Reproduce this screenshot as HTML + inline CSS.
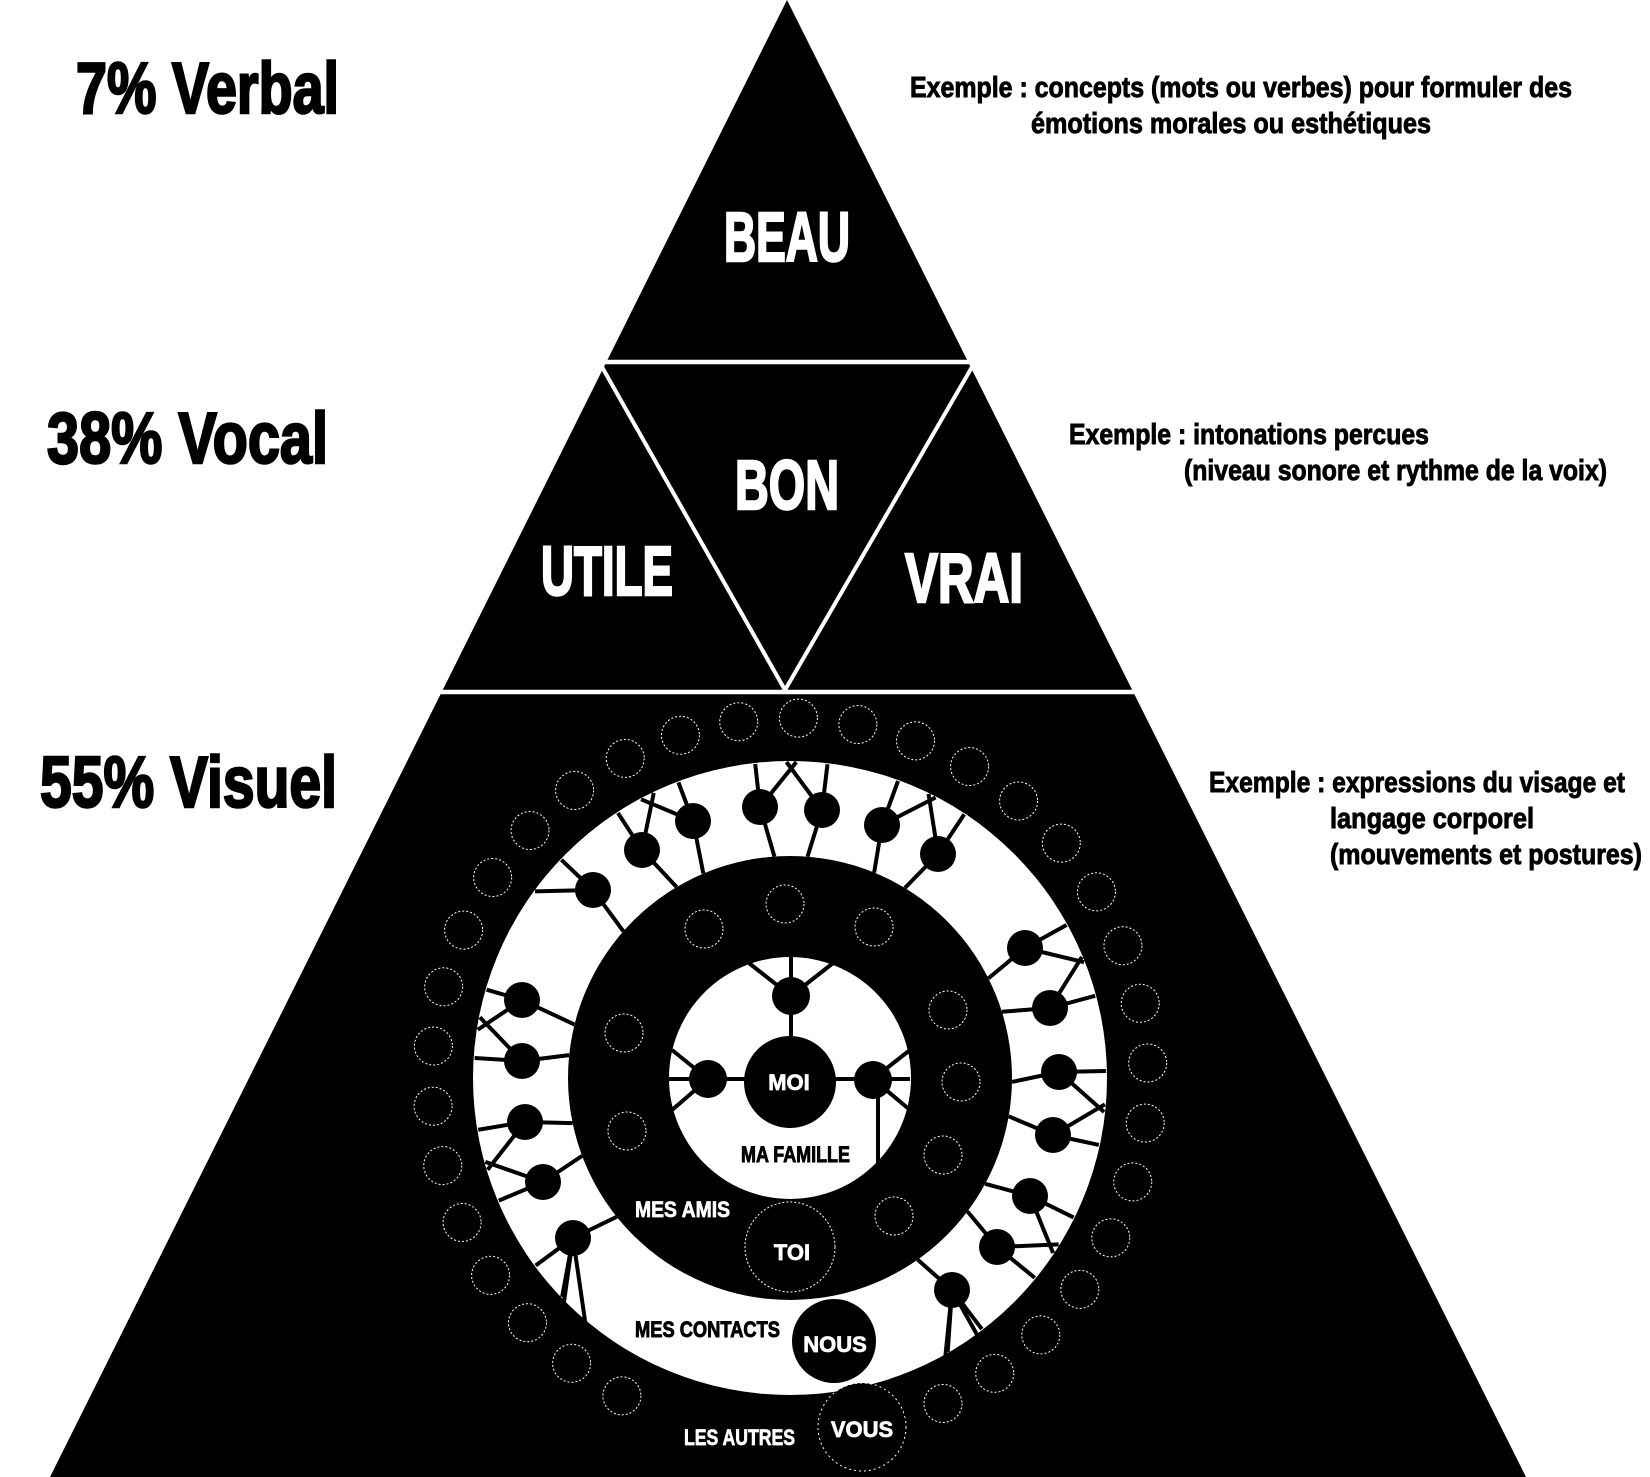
<!DOCTYPE html>
<html><head><meta charset="utf-8"><style>
html,body{margin:0;padding:0;background:#fff;width:1650px;height:1477px;overflow:hidden}
svg{display:block}
text{font-family:"Liberation Sans Narrow","Liberation Sans",sans-serif;font-weight:bold}
.big{stroke:#000;stroke-width:2.5}
.bigw{stroke:#fff;stroke-width:2.5}
.sm{stroke:#000;stroke-width:0.9}
.smw{stroke:#fff;stroke-width:0.7}
</style></head><body>
<svg id="s" width="1650" height="1477" viewBox="0 0 1650 1477" xmlns="http://www.w3.org/2000/svg">
<polygon points="787,0 50,1477 1526,1477" fill="#000"/>
<line x1="560" y1="362" x2="1010" y2="362" stroke="#fff" stroke-width="4.5"/>
<line x1="400" y1="692" x2="1180" y2="692" stroke="#fff" stroke-width="4.5"/>
<line x1="602" y1="367" x2="785" y2="690" stroke="#fff" stroke-width="4"/>
<line x1="972" y1="367" x2="785" y2="690" stroke="#fff" stroke-width="4"/>
<circle cx="790" cy="1078" r="317" fill="#fff"/>
<g id="spokes" stroke="#000" stroke-width="4"></g>
<circle cx="790" cy="1078" r="222" fill="#000"/>
<circle cx="790" cy="1078" r="121" fill="#fff"/>
<g id="inner" stroke="#000" stroke-width="4">
<line x1="791" y1="955" x2="791" y2="1040"/>
<line x1="745" y1="960" x2="791" y2="996"/><line x1="837" y1="960" x2="791" y2="996"/>
<line x1="669" y1="1079" x2="910" y2="1079"/>
<line x1="672" y1="1050" x2="708" y2="1079"/><line x1="672" y1="1110" x2="708" y2="1079"/>
<line x1="873" y1="1079" x2="910" y2="1050"/><line x1="873" y1="1079" x2="910" y2="1110"/>
<line x1="878" y1="1079" x2="878" y2="1165"/>
</g>
<circle cx="791" cy="996" r="19" fill="#000"/>
<circle cx="708" cy="1079" r="19" fill="#000"/>
<circle cx="873" cy="1080" r="19" fill="#000"/>
<circle cx="790" cy="1082" r="46" fill="#000"/>
<g id="dots" fill="none" stroke="#fff" stroke-width="1" stroke-dasharray="2,2"></g>
<circle cx="790" cy="1247" r="45" fill="#000" stroke="#fff" stroke-width="1" stroke-dasharray="2,2"/>
<circle cx="834" cy="1341" r="42" fill="#000"/>
<circle cx="862" cy="1427" r="44" fill="#000" stroke="#fff" stroke-width="1" stroke-dasharray="2,3"/>

<text class="big" x="76" y="113" font-size="72" textLength="263" lengthAdjust="spacingAndGlyphs">7% Verbal</text>
<text class="big" x="47" y="463" font-size="72" textLength="281" lengthAdjust="spacingAndGlyphs">38% Vocal</text>
<text class="big" x="40" y="807" font-size="72" textLength="297" lengthAdjust="spacingAndGlyphs">55% Visuel</text>
<g fill="#fff">
<text class="bigw" x="724" y="261" font-size="70" textLength="126" lengthAdjust="spacingAndGlyphs">BEAU</text>
<text class="bigw" x="735" y="509" font-size="70" textLength="104" lengthAdjust="spacingAndGlyphs">BON</text>
<text class="bigw" x="541" y="595" font-size="70" textLength="132" lengthAdjust="spacingAndGlyphs">UTILE</text>
<text class="bigw" x="905" y="602" font-size="70" textLength="118" lengthAdjust="spacingAndGlyphs">VRAI</text>
<text class="smw" x="789" y="1090" font-size="22" text-anchor="middle">MOI</text>
<text class="smw" x="635" y="1217" font-size="22" textLength="95" lengthAdjust="spacingAndGlyphs">MES AMIS</text>
<text class="smw" x="792" y="1260" font-size="22" text-anchor="middle">TOI</text>
<text class="smw" x="835" y="1352" font-size="22" text-anchor="middle">NOUS</text>
<text class="smw" x="684" y="1445" font-size="22" textLength="111" lengthAdjust="spacingAndGlyphs">LES AUTRES</text>
<text class="smw" x="862" y="1437" font-size="22" text-anchor="middle">VOUS</text>
</g>
<text class="sm" x="741" y="1162" font-size="22" textLength="109" lengthAdjust="spacingAndGlyphs">MA FAMILLE</text>
<text class="sm" x="635" y="1337" font-size="22" textLength="145" lengthAdjust="spacingAndGlyphs">MES CONTACTS</text>

<g font-size="29" class="sm">
<text x="910" y="97" textLength="662" lengthAdjust="spacingAndGlyphs">Exemple :  concepts  (mots ou verbes)  pour formuler des</text>
<text x="1031" y="133" textLength="400" lengthAdjust="spacingAndGlyphs">émotions morales ou esthétiques</text>
<text x="1069" y="444" textLength="360" lengthAdjust="spacingAndGlyphs">Exemple :  intonations percues</text>
<text x="1184" y="480" textLength="423" lengthAdjust="spacingAndGlyphs">(niveau sonore et rythme de la voix)</text>
<text x="1209" y="792" textLength="416" lengthAdjust="spacingAndGlyphs">Exemple :  expressions du visage et</text>
<text x="1330" y="828" textLength="204" lengthAdjust="spacingAndGlyphs">langage corporel</text>
<text x="1330" y="864" textLength="312" lengthAdjust="spacingAndGlyphs">(mouvements et postures)</text>
</g>
</svg>
<script>
(function(){
var NS="http://www.w3.org/2000/svg",cx=790,cy=1078;
function el(p,t,a){var e=document.createElementNS(NS,t);for(var k in a)e.setAttribute(k,a[k]);p.appendChild(e);return e;}
var sp=document.getElementById('spokes'),dots=document.getElementById('dots'),svg=document.getElementById('s');
var filled=[[693,821],[642,850],[593,890],[760,807],[822,810],[882,825],[938,854],[1025,948],[1050,1008],[1059,1072],[1053,1135],[1030,1196],[997,1247],[952,1290],[522,1000],[522,1061],[525,1122],[543,1182],[573,1238]];
filled.forEach(function(p,i){
 var a=Math.atan2(p[1]-cy,p[0]-cx);
 var ri=222,ro=316;
 el(sp,'line',{x1:cx+ri*Math.cos(a+(i%2?0.04:-0.04)),y1:cy+ri*Math.sin(a+(i%2?0.04:-0.04)),x2:p[0],y2:p[1]});
 el(sp,'line',{x1:p[0],y1:p[1],x2:cx+ro*Math.cos(a),y2:cy+ro*Math.sin(a)});
 var b=a+(i%2?0.13:-0.13);
 el(sp,'line',{x1:p[0],y1:p[1],x2:cx+ro*Math.cos(b),y2:cy+ro*Math.sin(b)});
});
[[573,1238,590,1355],[573,1238,560,1330],[952,1290,945,1360],[952,1290,980,1340]].forEach(function(l){el(sp,'line',{x1:l[0],y1:l[1],x2:l[2],y2:l[3]});});
filled.forEach(function(p){el(svg,'circle',{cx:p[0],cy:p[1],r:18,fill:'#000'});});
[[704,929],[785,904],[874,927],[624,1033],[948,1010],[961,1082],[627,1131],[943,1155],[894,1216]].forEach(function(p){el(dots,'circle',{cx:p[0],cy:p[1],r:19});});
var start=118,end=424.7,n=33;
for(var i=0;i<n;i++){var d=(start+(end-start)*i/(n-1))*Math.PI/180;
 el(dots,'circle',{cx:cx+358*Math.cos(d),cy:cy+360*Math.sin(d),r:19});}
})();
</script>
</body></html>
